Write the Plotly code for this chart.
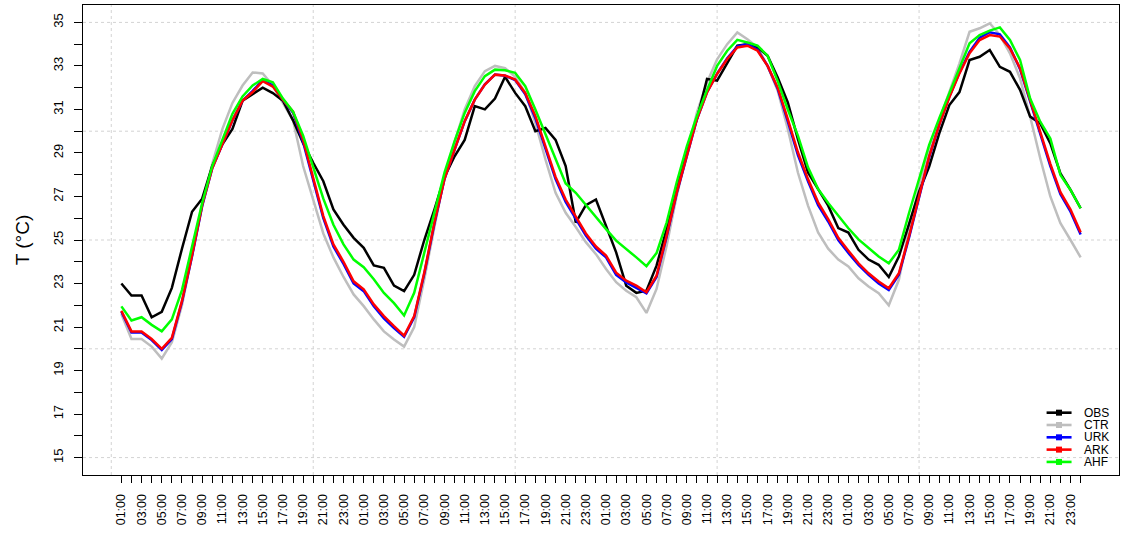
import plotly.graph_objects as go

# ---------------- data ----------------
hour_index = list(range(1, 97))
tick_labels = ["01:00", "03:00", "05:00", "07:00", "09:00", "11:00",
               "13:00", "15:00", "17:00", "19:00", "21:00", "23:00"] * 4

OBS = [23.0, 22.45, 22.45, 21.45, 21.7, 22.8, 24.6, 26.3, 26.9, 28.4, 29.4, 30.1,
       31.4, 31.7, 32.0, 31.75, 31.4, 30.5, 29.45, 28.55, 27.7, 26.4, 25.7, 25.1,
       24.64, 23.83, 23.72, 22.9, 22.65, 23.4, 25.0, 26.4, 27.9, 28.85, 29.6, 31.15,
       31.0, 31.5, 32.5, 31.76, 31.15, 30.0, 30.15, 29.6, 28.4, 25.8, 26.6, 26.86,
       25.66, 24.43, 22.9, 22.57, 22.67, 23.82, 25.5, 27.34, 29.18, 30.56, 32.4, 32.32,
       33.16, 33.93, 34.0, 33.85, 33.47, 32.47, 31.32, 29.64, 28.1, 27.34, 26.58, 25.55,
       25.34, 24.55, 24.1, 23.86, 23.3, 24.24, 25.77, 27.22, 28.37, 29.9, 31.2, 31.8,
       33.27, 33.42, 33.73, 32.96, 32.73, 31.9, 30.67, 30.36, 29.44, 28.06, 27.3, 26.46]

CTR = [21.6, 20.45, 20.45, 20.1, 19.55, 20.3, 22.0, 24.3, 26.6, 28.5, 30.1, 31.3,
       32.1, 32.7, 32.65, 32.1, 31.3, 30.5, 28.4, 26.9, 25.3, 24.2, 23.3, 22.5,
       21.96, 21.35, 20.8, 20.43, 20.1, 21.0, 23.2, 25.6, 27.9, 29.5, 31.0, 32.07,
       32.76, 33.0, 32.9, 32.5, 31.76, 30.38, 28.7, 27.17, 26.25, 25.6, 24.9, 24.35,
       23.67, 23.06, 22.67, 22.37, 21.65, 22.75, 24.74, 27.04, 29.03, 30.87, 32.24, 33.3,
       34.0, 34.54, 34.23, 33.85, 33.0, 31.86, 30.1, 28.1, 26.58, 25.35, 24.6, 24.1,
       23.78, 23.24, 22.86, 22.55, 22.0, 23.17, 25.46, 27.45, 29.06, 30.51, 31.81, 33.12,
       34.57, 34.73, 34.96, 34.42, 33.58, 32.43, 30.67, 28.76, 27.0, 25.77, 25.0, 24.2]

URK = [21.7, 20.75, 20.75, 20.4, 19.95, 20.45, 22.15, 24.25, 26.55, 28.3, 29.4, 30.5,
       31.4, 31.85, 32.35, 32.1, 31.45, 30.85, 29.5, 27.7, 26.0, 24.7, 23.9, 23.0,
       22.65, 21.95, 21.4, 20.95, 20.55, 21.45, 23.45, 25.75, 27.8, 29.15, 30.45, 31.45,
       32.15, 32.6, 32.55, 32.35, 31.7, 30.6, 29.2, 27.8, 26.75, 26.0, 25.2, 24.6,
       24.2, 23.4, 23.05, 22.8, 22.55, 23.3, 25.15, 27.15, 28.85, 30.55, 31.8, 32.65,
       33.35, 33.9, 34.0, 33.75, 33.0, 31.95, 30.45, 28.9, 27.7, 26.6, 25.85, 25.0,
       24.4, 23.85, 23.4, 23.0, 22.7, 23.4, 25.1, 26.95, 28.8, 30.3, 31.6, 32.7,
       33.65, 34.3, 34.55, 34.45, 33.85, 32.85, 31.35, 29.8, 28.4, 27.1, 26.3, 25.25]

ARK = [21.75, 20.8, 20.8, 20.45, 20.0, 20.5, 22.2, 24.3, 26.6, 28.3, 29.4, 30.5,
       31.4, 31.8, 32.3, 32.05, 31.45, 30.9, 29.6, 27.8, 26.1, 24.8, 24.0, 23.1,
       22.73, 22.04, 21.5, 21.04, 20.6, 21.5, 23.5, 25.8, 27.8, 29.16, 30.46, 31.45,
       32.14, 32.6, 32.56, 32.37, 31.76, 30.7, 29.3, 27.9, 26.86, 26.1, 25.3, 24.7,
       24.28, 23.5, 23.13, 22.9, 22.6, 23.36, 25.2, 27.19, 28.87, 30.56, 31.78, 32.63,
       33.32, 33.85, 33.93, 33.7, 33.0, 32.0, 30.56, 29.03, 27.8, 26.73, 25.96, 25.1,
       24.51, 23.93, 23.47, 23.09, 22.78, 23.47, 25.16, 27.0, 28.84, 30.29, 31.56, 32.66,
       33.58, 34.19, 34.42, 34.35, 33.8, 32.9, 31.43, 29.9, 28.5, 27.2, 26.4, 25.35]

AHF = [21.95, 21.3, 21.45, 21.1, 20.8, 21.35, 22.7, 24.7, 26.7, 28.4, 29.6, 30.8,
       31.6, 32.1, 32.4, 32.25, 31.5, 30.9, 29.8, 28.4, 26.9, 25.7, 24.8, 24.1,
       23.75, 23.2, 22.57, 22.1, 21.53, 22.57, 24.4, 26.25, 28.1, 29.54, 30.84, 31.84,
       32.53, 32.83, 32.8, 32.68, 32.07, 31.0, 29.85, 28.7, 27.6, 27.17, 26.6, 26.05,
       25.5, 24.97, 24.6, 24.2, 23.8, 24.4, 25.8, 27.65, 29.3, 30.7, 31.9, 33.0,
       33.7, 34.2, 34.08, 33.93, 33.47, 32.3, 31.0, 29.8, 28.34, 27.34, 26.7, 26.12,
       25.54, 25.03, 24.62, 24.24, 23.93, 24.55, 26.23, 27.84, 29.37, 30.6, 31.74, 32.9,
       34.04, 34.42, 34.62, 34.77, 34.19, 33.27, 31.5, 30.44, 29.67, 27.99, 27.3, 26.46]

series_names = ["OBS", "CTR", "URK", "ARK", "AHF"]
series_values = [OBS, CTR, URK, ARK, AHF]
series_colors = ["#000000", "#BEBEBE", "#0000FF", "#FF0000", "#00FF00"]

y_labels = [15, 17, 19, 21, 23, 25, 27, 29, 31, 33, 35]
x_grid = [0, 20, 40, 60, 80]
y_grid = [15, 20, 25, 30, 35]

# ---------------- figure ----------------
FONT = "Liberation Sans, Arial, sans-serif"
fig = go.Figure()

draw_order = [1, 0, 2, 3, 4]
for k in draw_order:
    fig.add_trace(go.Scatter(
        x=hour_index, y=series_values[k], mode="lines", name=series_names[k],
        line=dict(color=series_colors[k], width=2.5), showlegend=False,
        hoverinfo="x+y+name"))

shapes = []
for gx in x_grid:
    shapes.append(dict(type="line", xref="x", yref="paper", x0=gx, x1=gx, y0=0, y1=1,
                       line=dict(color="#D3D3D3", width=1, dash="dot"), layer="below"))
for gy in y_grid:
    shapes.append(dict(type="line", xref="paper", yref="y", x0=0, x1=1, y0=gy, y1=gy,
                       line=dict(color="#D3D3D3", width=1, dash="dot"), layer="below"))

# compact legend (bottom-right, inside plot)
annotations = []
leg_x0, leg_x1, leg_xm, leg_tx = 0.9301, 0.9542, 0.9421, 0.9653
leg_top, leg_step = 0.1326, 0.0262
for k, (nm, col) in enumerate(zip(series_names, series_colors)):
    yy = leg_top - k * leg_step
    shapes.append(dict(type="line", xref="paper", yref="paper", x0=leg_x0, x1=leg_x1,
                       y0=yy, y1=yy, line=dict(color=col, width=2.6)))
    shapes.append(dict(type="rect", xref="paper", yref="paper", xsizemode="pixel",
                       ysizemode="pixel", xanchor=leg_xm, yanchor=yy,
                       x0=-3, x1=3, y0=-3, y1=3, fillcolor=col, line=dict(width=0)))
    annotations.append(dict(xref="paper", yref="paper", x=leg_tx, y=yy, text=nm,
                            showarrow=False, xanchor="left", yanchor="middle",
                            borderpad=0,
                            font=dict(family=FONT, size=12, color="#000000")))

fig.update_layout(
    width=1127, height=533,
    margin=dict(l=83, r=8, t=5, b=58, autoexpand=False),
    paper_bgcolor="white", plot_bgcolor="white",
    font=dict(family=FONT, size=13, color="#000000"),
    shapes=shapes, annotations=annotations,
    showlegend=False,
    xaxis=dict(
        range=[-2.8, 99.8], showgrid=False, zeroline=False, automargin=False,
        showline=True, linecolor="#000000", linewidth=1, mirror=True,
        tickmode="array", tickvals=hour_index[0::2], ticktext=tick_labels,
        ticks="outside", ticklen=7, tickwidth=1, tickcolor="#000000",
        tickangle=-90, tickfont=dict(family=FONT, size=12.5, color="#000000"),
        ticklabelstandoff=6,
        minor=dict(tickmode="array", tickvals=hour_index[1::2], ticks="outside",
                   ticklen=7, tickwidth=1, tickcolor="#000000", showgrid=False),
    ),
    yaxis=dict(
        range=[14.2, 35.8], showgrid=False, zeroline=False, automargin=False,
        showline=True, linecolor="#000000", linewidth=1, mirror=True,
        tickmode="array", tickvals=y_labels, ticktext=[str(v) for v in y_labels],
        ticks="outside", ticklen=8, tickwidth=1, tickcolor="#000000",
        tickangle=-90, tickfont=dict(family=FONT, size=13, color="#000000"),
        ticklabelstandoff=6,
        minor=dict(tickmode="array", tickvals=[16, 18, 20, 22, 24, 26, 28, 30, 32, 34],
                   ticks="outside", ticklen=8, tickwidth=1, tickcolor="#000000",
                   showgrid=False),
        title=dict(text="T (°C)", font=dict(family=FONT, size=19, color="#000000"),
                   standoff=16),
    ),
)

fig.write_html("out.html", config={"displayModeBar": False},
               post_script="document.body.style.margin='0';document.body.style.padding='0';")
